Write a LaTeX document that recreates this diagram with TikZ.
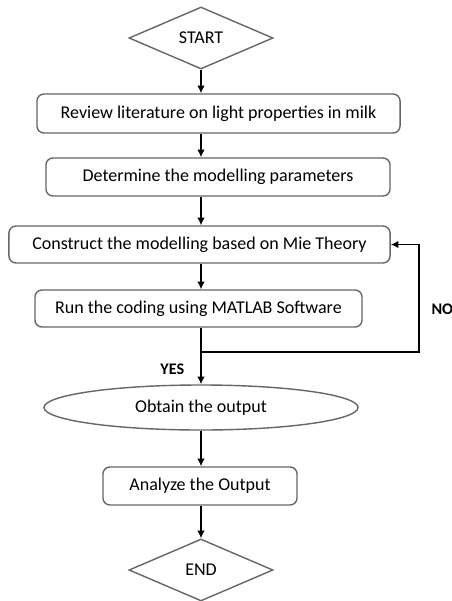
\documentclass[tikz,border=0pt]{standalone}
\usepackage{fontspec}
\setmainfont{Carlito}
\usetikzlibrary{shapes.geometric,arrows.meta}

\begin{document}
\begin{tikzpicture}[x=0.025cm,y=-0.025cm,
    >={Latex[length=5.5pt,width=5.5pt]},
    font=\fontsize{12.8}{15}\selectfont,
    text=black,
    stepbox/.style={draw=black!60,line width=1pt,rounded corners=5pt,inner sep=0pt},
    term/.style={diamond,draw=black!60,line width=1pt,inner sep=0pt,
                 minimum width=3.6cm,minimum height=1.55cm},
    answer/.style={font=\fontsize{11.5}{13}\selectfont\bfseries},
    flow/.style={->,line width=1.2pt}]
    \useasboundingbox (0,0) rectangle (452,601);
    % \draw[help lines,step=50] (0,0) grid (452,601);

    \node[term]     (start)     at (201,38)      {START};
    \node[stepbox,minimum width=9.075cm,minimum height=0.975cm]
                    (review)    at (218.5,113.5) {Review literature on light properties in milk};
    \node[stepbox,minimum width=8.6cm,minimum height=0.95cm]
                    (determine) at (218,177)     {Determine the modelling parameters};
    \node[stepbox,minimum width=9.525cm,minimum height=0.925cm]
                    (construct) at (199.5,244.5) {Construct the modelling based on Mie Theory};
    \node[stepbox,minimum width=8.175cm,minimum height=0.925cm]
                    (run)       at (198.5,308.5) {Run the coding using MATLAB Software};
    \node[ellipse,draw=black!60,line width=1pt,inner sep=0pt,
          minimum width=7.85cm,minimum height=1.125cm]
                    (output)    at (201,407.5)   {Obtain the output};
    \node[stepbox,minimum width=4.85cm,minimum height=0.95cm]
                    (analyze)   at (200,486)     {Analyze the Output};
    \node[term]     (end)       at (201,570)     {END};

    \coordinate (split) at (201,352);
    \coordinate (back)  at (419,352);

    \path[flow]
        (start)                     edge (review.north -| start)
        (review.south -| start)     edge (determine.north -| start)
        (determine.south -| start)  edge (construct.north -| start)
        (construct.south -| start)  edge (run.north -| start)
        (run.south -| start)        edge node[answer,pos=0.74,left=8pt] {YES} (output)
        (output)                    edge (analyze.north -| output)
        (analyze.south -| output)   edge (end);

    % loop back when the result is not good
    \draw[flow] (split) -- (back) |- node[answer,pos=0.2,right=5pt] {NO} (construct.east);
\end{tikzpicture}
\end{document}
